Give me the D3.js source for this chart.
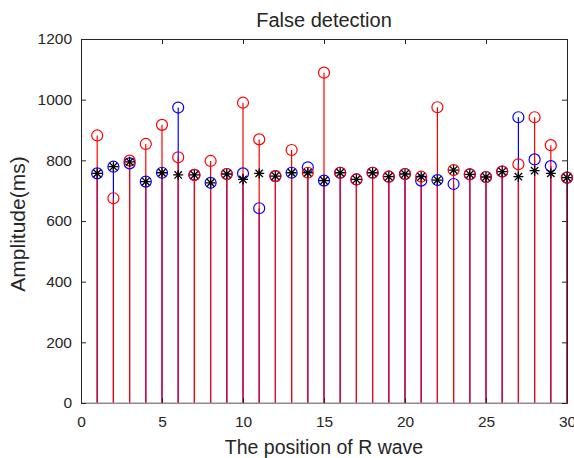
<!DOCTYPE html>
<html>
<head>
<meta charset="utf-8">
<script src="https://cdn.jsdelivr.net/npm/d3@7/dist/d3.min.js"></script>
<style>
  body { margin: 0; background: #fff; }
  text { font-family: "Liberation Sans", Arial, sans-serif; fill: #262626; }
</style>
</head>
<body>
<div id="chart"></div>
<script>
// R wave positions and amplitudes (ms)
var positions = [1, 2, 3, 4, 5, 6, 7, 8, 9, 10, 11, 12, 13, 14, 15, 16, 17, 18, 19, 20, 21, 22, 23, 24, 25, 26, 27, 28, 29, 30];
var blueVals  = [757, 779, 790, 730, 759, 974, 752, 726, 755, 757, 642, 748, 759, 777, 733, 759, 737, 759, 746, 755, 733, 735, 722, 754, 745, 763, 942, 803, 781, 743];
var redVals   = [882, 675, 799, 854, 917, 810, 752, 798, 755, 990, 869, 748, 834, 759, 1089, 759, 737, 759, 746, 755, 746, 975, 768, 754, 745, 763, 787, 942, 850, 743];
var blackVals = [757, 779, 795, 730, 759, 752, 752, 726, 755, 737, 757, 748, 759, 759, 733, 759, 737, 759, 746, 755, 746, 735, 768, 754, 745, 763, 746, 766, 757, 743];
var xTicks = [0, 5, 10, 15, 20, 25, 30];
var yTicks = [0, 200, 400, 600, 800, 1000, 1200];

var svgWidth = 574;
var svgHeight = 458;
var margin = { top: 39, right: 7, bottom: 55, left: 81 };
var width = svgWidth - margin.left - margin.right;
var height = svgHeight - margin.top - margin.bottom;

var svg = d3.select("#chart")
  .append("svg")
    .attr("width", svgWidth)
    .attr("height", svgHeight);

var chart = svg.append("g")
  .attr("transform", `translate(${margin.left}, ${margin.top})`);

var x = d3.scaleLinear().domain([0, 30]).range([0, width]);
var y = d3.scaleLinear().domain([0, 1200]).range([height, 0]);

function series(vals) {
  return positions.map((p, i) => ({ x: p, v: vals[i] }));
}

function drawStems(vals, color) {
  chart.append("g").selectAll("line")
    .data(series(vals))
    .enter()
    .append("line")
    .attr("x1", d => x(d.x))
    .attr("x2", d => x(d.x))
    .attr("y1", y(0))
    .attr("y2", d => y(d.v))
    .attr("stroke", color)
    .attr("stroke-width", 1.2);
}

function drawCircles(vals, color) {
  chart.append("g").selectAll("circle")
    .data(series(vals))
    .enter()
    .append("circle")
    .attr("cx", d => x(d.x))
    .attr("cy", d => y(d.v))
    .attr("r", 5.5)
    .attr("fill", "none")
    .attr("stroke", color)
    .attr("stroke-width", 1.2);
}

function asterisk(cx, cy) {
  var p = d3.path();
  var r = 5, s = 3.7;
  p.moveTo(cx - r, cy); p.lineTo(cx + r, cy);
  p.moveTo(cx, cy - r); p.lineTo(cx, cy + r);
  p.moveTo(cx - s, cy - s); p.lineTo(cx + s, cy + s);
  p.moveTo(cx - s, cy + s); p.lineTo(cx + s, cy - s);
  return p.toString();
}

// stems: blue under red
drawStems(blueVals, "#0000ff");
drawStems(redVals, "#ff0000");
drawCircles(blueVals, "#0000ff");
drawCircles(redVals, "#ff0000");

chart.append("g").selectAll("path")
  .data(series(blackVals))
  .enter()
  .append("path")
  .attr("d", d => asterisk(x(d.x), y(d.v)))
  .attr("stroke", "#000")
  .attr("stroke-width", 1.3)
  .attr("fill", "none");

// stem baseline
chart.append("line")
  .attr("x1", 0).attr("x2", width)
  .attr("y1", y(0)).attr("y2", y(0))
  .attr("stroke", "#8c8c8c")
  .attr("stroke-width", 1);

// axes, inward ticks, box
var axisColor = "#262626";
var bottomAxis = d3.axisBottom(x).tickValues(xTicks).tickSize(-5).tickPadding(13).tickFormat(d3.format("d"));
var topAxis = d3.axisTop(x).tickValues(xTicks).tickSize(-5).tickFormat("");
var leftAxis = d3.axisLeft(y).tickValues(yTicks).tickSize(-5).tickPadding(9).tickFormat(d3.format("d"));
var rightAxis = d3.axisRight(y).tickValues(yTicks).tickSize(-5).tickFormat("");

var gB = chart.append("g").attr("transform", `translate(0, ${height})`).call(bottomAxis);
var gT = chart.append("g").call(topAxis);
var gL = chart.append("g").call(leftAxis);
var gR = chart.append("g").attr("transform", `translate(${width}, 0)`).call(rightAxis);

[gB, gT, gL, gR].forEach(function(g) {
  g.selectAll("path.domain").attr("stroke", axisColor).attr("stroke-width", 1);
  g.selectAll(".tick line").attr("stroke", axisColor);
  g.selectAll(".tick text")
    .style("font-family", "Liberation Sans, Arial, sans-serif")
    .style("font-size", "15.5px")
    .attr("fill", axisColor);
});
gB.select("path.domain").attr("stroke", "#8c8c8c");

// title and labels
svg.append("text")
  .attr("x", margin.left + width / 2)
  .attr("y", 27)
  .attr("text-anchor", "middle")
  .style("font-size", "20px")
  .text("False detection");

svg.append("text")
  .attr("x", margin.left + width / 2)
  .attr("y", 454)
  .attr("text-anchor", "middle")
  .style("font-size", "19.5px")
  .text("The position of R wave");

svg.append("text")
  .attr("transform", `translate(25, ${margin.top + height / 2 + 3}) rotate(-90)`)
  .attr("text-anchor", "middle")
  .style("font-size", "21px")
  .text("Amplitude(ms)");
</script>
</body>
</html>
